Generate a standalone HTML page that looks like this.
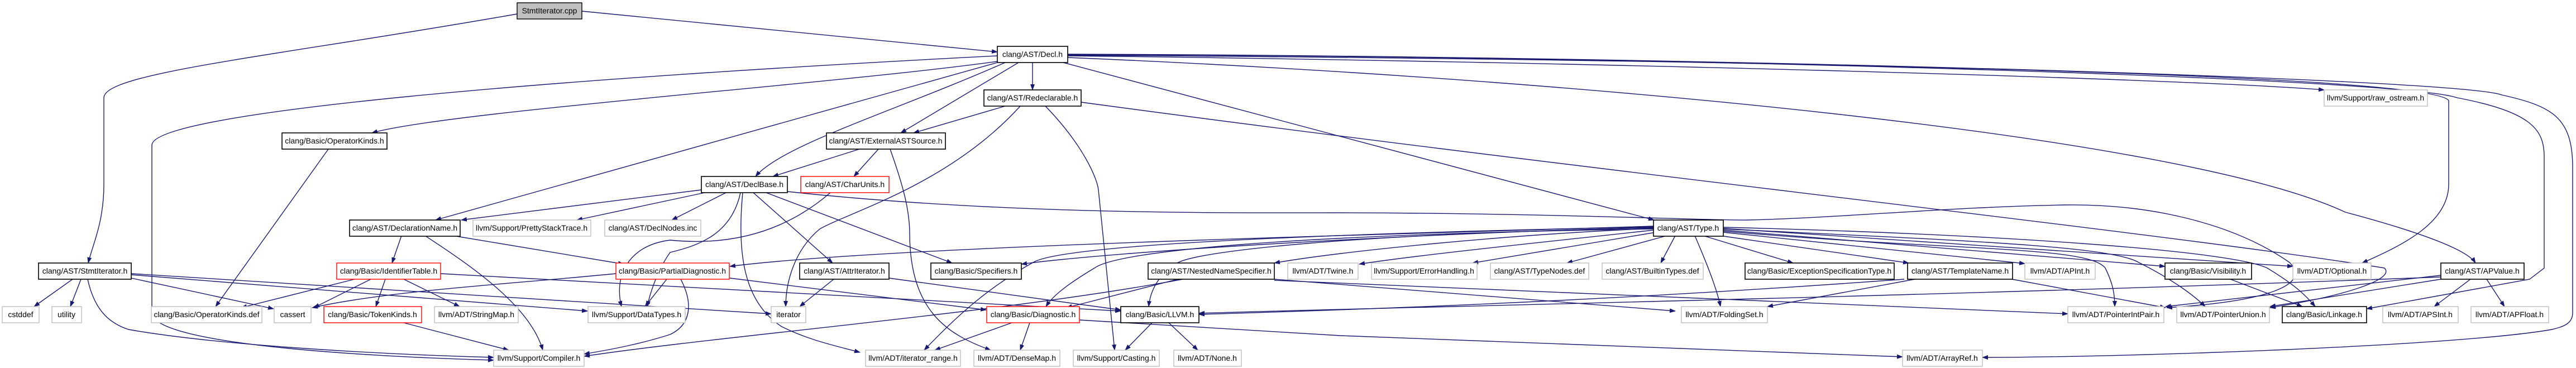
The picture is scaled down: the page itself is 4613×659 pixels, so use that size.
<!DOCTYPE html>
<html><head><meta charset="utf-8"><style>
html,body{margin:0;padding:0;background:#fff;width:4613px;height:659px;overflow:hidden}
svg{display:block}
text{font-family:"Liberation Sans",Arial,sans-serif;font-size:14px;fill:#000}
.e{fill:none;stroke:#191970;stroke-width:1.4}
.b{fill:#fff;stroke:#000;stroke-width:1.6}
.g{fill:#fff;stroke:#bfbfbf;stroke-width:1.4}
.r{fill:#fff;stroke:#ff0000;stroke-width:1.4}
</style></head><body>
<svg width="4613" height="659" viewBox="0 0 4613 659" xmlns="http://www.w3.org/2000/svg">
<defs><marker id="a" markerWidth="11" markerHeight="8" refX="10" refY="4" orient="auto" markerUnits="userSpaceOnUse"><path d="M0,0 L11,4 L0,8 z" fill="#191970"/></marker></defs>
<g class="e" marker-end="url(#a)">
<path d="M1042,20 L1786,93"/>
<path d="M926,25 C500,100 186,130 186,175 L186,330 C186,400 165,440 158,471"/>
<path d="M1849,112 L1849,161"/>
<path d="M1824,112 L1613,238"/>
<path d="M1800,112 C1600,200 1400,260 1353,316"/>
<path d="M1786,110 C1500,150 800,200 666,238"/>
<path d="M1786,112 L780,394"/>
<path d="M1786,100 C1000,140 272,200 272,260 L272,560 C272,620 700,640 884,645"/>
<path d="M1904,112 L2962,394"/>
<path d="M1912,100 C2800,110 3900,140 4162,161"/>
<path d="M1912,99 C3000,105 4350,130 4385,180 L4385,330 C4385,400 4300,440 4230,471"/>
<path d="M1912,103 C2800,140 3900,240 4200,380 C4350,420 4420,450 4433,471"/>
<path d="M1912,98 C3000,100 4300,140 4400,175 C4530,200 4556,230 4556,280 L4556,480 L4530,500 L4238,553"/>
<path d="M1912,97 C3000,100 4400,140 4480,170 C4570,190 4607,210 4607,300 L4607,560 C4607,580 4590,585 4570,590 C4400,620 3800,640 3550,640"/>
<path d="M1800,190 L1636,238"/>
<path d="M1827,190 C1700,330 1520,380 1468,410 C1420,450 1407,510 1407,549"/>
<path d="M1872,190 C1940,260 1965,320 1967,340 L1996,627"/>
<path d="M1936,183 C2800,300 3900,420 4270,480 C4290,500 4200,530 4065,551"/>
<path d="M1539,267 L1384,316"/>
<path d="M1573,267 L1529,316"/>
<path d="M1594,267 C1620,340 1629,380 1629,420 C1630,560 1700,600 1774,627"/>
<path d="M1256,340 L826,394"/>
<path d="M1262,345 L1033,394"/>
<path d="M1300,345 L1203,394"/>
<path d="M1330,345 C1320,450 1330,540 1400,585 C1450,610 1500,620 1540,631"/>
<path d="M1349,345 L1491,471"/>
<path d="M1372,345 L1705,471"/>
<path d="M1410,343 C1800,385 2200,381 2400,381 C2800,382 3050,395 3130,394 C3300,390 3500,370 3700,367 C3850,365 4000,400 4100,470 C4140,510 4060,540 3880,551"/>
<path d="M1487,345 C1400,420 1300,440 1200,430 C1120,440 1100,500 1113,549"/>
<path d="M1326,345 C1310,420 1250,440 1200,452 C1180,480 1165,520 1159,549"/>
<path d="M761,422 C850,480 950,550 972,627"/>
<path d="M2118,500 C1800,560 1300,600 1046,638"/>
<path d="M1219,500 C1240,540 1240,580 1200,599 C1150,615 1100,625 1046,634"/>
<path d="M130,500 L61,549"/>
<path d="M145,500 L126,549"/>
<path d="M157,500 C170,560 200,580 230,590 C400,620 700,635 884,640"/>
<path d="M235,498 L490,553"/>
<path d="M235,492 L1052,557"/>
<path d="M235,490 L1381,562"/>
<path d="M588,267 L386,549"/>
<path d="M719,422 L702,471"/>
<path d="M811,422 L1117,473"/>
<path d="M635,500 L432,551"/>
<path d="M664,500 L562,551"/>
<path d="M690,500 L673,549"/>
<path d="M723,500 L823,549"/>
<path d="M789,490 L2007,557"/>
<path d="M1103,490 C900,510 700,520 559,551"/>
<path d="M1194,500 L1155,549"/>
<path d="M1307,498 L1766,555"/>
<path d="M723,578 L911,627"/>
<path d="M1493,500 L1432,549"/>
<path d="M1592,498 L2007,555"/>
<path d="M2109,500 L1910,551"/>
<path d="M1812,578 L1674,627"/>
<path d="M1844,578 L1827,627"/>
<path d="M1933,573 L2400,601 L3407,639"/>
<path d="M2063,578 L2015,627"/>
<path d="M2093,578 L2145,627"/>
<path d="M2961,405 C2500,420 1600,440 1307,477"/>
<path d="M2961,407 C2500,420 2000,450 1829,473"/>
<path d="M2961,409 C2700,420 2400,450 2282,471"/>
<path d="M2961,412 C2800,430 2550,455 2434,473"/>
<path d="M2965,416 L2637,471"/>
<path d="M2985,422 L2806,471"/>
<path d="M3000,422 L2974,471"/>
<path d="M3035,422 C3060,480 3075,520 3081,549"/>
<path d="M3050,422 L3211,471"/>
<path d="M3080,422 L3418,471"/>
<path d="M3086,416 L3626,472"/>
<path d="M3086,412 L3877,477"/>
<path d="M3086,409 L4106,477"/>
<path d="M3086,414 C3500,450 3740,440 3770,480 C3785,510 3787,530 3787,549"/>
<path d="M3086,410 C3500,430 3780,440 3830,470 C3890,500 3930,530 3949,549"/>
<path d="M3086,407 C3600,420 4000,450 4060,480 C4110,510 4130,530 4146,549"/>
<path d="M2961,410 C2300,420 2000,450 1960,480 C1910,510 1885,530 1873,549"/>
<path d="M2961,408 C2400,420 2150,450 2110,470 C2075,490 2060,520 2057,549"/>
<path d="M2961,406 C2300,420 1900,440 1850,470 C1760,520 1700,580 1655,627"/>
<path d="M3429,500 L3165,549"/>
<path d="M3410,500 C3000,530 2600,550 2147,563"/>
<path d="M3603,500 L3878,551"/>
<path d="M2282,500 L3000,557"/>
<path d="M2282,502 L3703,562"/>
<path d="M4424,500 L4359,549"/>
<path d="M4453,500 L4485,549"/>
<path d="M4371,493 L3878,549"/>
<path d="M4371,500 L4065,549"/>
<path d="M4371,496 C3500,530 2500,550 2147,561"/>
<path d="M3994,500 L4123,549"/>
</g>
<g>
<rect x="926" y="5" width="116" height="29" fill="#bfbfbf" stroke="#000" stroke-width="1.4"/><text x="984" y="24" text-anchor="middle">StmtIterator.cpp</text>
<rect class="b" x="1786" y="83" width="126" height="29"/><text x="1849" y="102" text-anchor="middle">clang/AST/Decl.h</text>
<rect class="b" x="1762" y="161" width="174" height="29"/><text x="1849" y="180" text-anchor="middle">clang/AST/Redeclarable.h</text>
<rect class="g" x="4162" y="161" width="185" height="29"/><text x="4254" y="180" text-anchor="middle">llvm/Support/raw_ostream.h</text>
<rect class="b" x="505" y="238" width="188" height="29"/><text x="599" y="257" text-anchor="middle">clang/Basic/OperatorKinds.h</text>
<rect class="b" x="1480" y="238" width="213" height="29"/><text x="1586" y="257" text-anchor="middle">clang/AST/ExternalASTSource.h</text>
<rect class="b" x="1256" y="316" width="154" height="29"/><text x="1333" y="335" text-anchor="middle">clang/AST/DeclBase.h</text>
<rect class="r" x="1434" y="316" width="158" height="29"/><text x="1513" y="335" text-anchor="middle">clang/AST/CharUnits.h</text>
<rect class="b" x="626" y="394" width="198" height="29"/><text x="725" y="413" text-anchor="middle">clang/AST/DeclarationName.h</text>
<rect class="g" x="847" y="394" width="211" height="29"/><text x="952" y="413" text-anchor="middle">llvm/Support/PrettyStackTrace.h</text>
<rect class="g" x="1083" y="394" width="172" height="29"/><text x="1169" y="413" text-anchor="middle">clang/AST/DeclNodes.inc</text>
<rect class="b" x="2961" y="394" width="125" height="29"/><text x="3023" y="413" text-anchor="middle">clang/AST/Type.h</text>
<rect class="b" x="69" y="471" width="166" height="29"/><text x="152" y="490" text-anchor="middle">clang/AST/StmtIterator.h</text>
<rect class="r" x="603" y="471" width="186" height="29"/><text x="696" y="490" text-anchor="middle">clang/Basic/IdentifierTable.h</text>
<rect class="r" x="1103" y="471" width="203" height="29"/><text x="1204" y="490" text-anchor="middle">clang/Basic/PartialDiagnostic.h</text>
<rect class="b" x="1432" y="471" width="160" height="29"/><text x="1512" y="490" text-anchor="middle">clang/AST/AttrIterator.h</text>
<rect class="b" x="1667" y="471" width="162" height="29"/><text x="1748" y="490" text-anchor="middle">clang/Basic/Specifiers.h</text>
<rect class="b" x="2056" y="471" width="226" height="29"/><text x="2169" y="490" text-anchor="middle">clang/AST/NestedNameSpecifier.h</text>
<rect class="g" x="2306" y="471" width="126" height="29"/><text x="2369" y="490" text-anchor="middle">llvm/ADT/Twine.h</text>
<rect class="g" x="2456" y="471" width="189" height="29"/><text x="2550" y="490" text-anchor="middle">llvm/Support/ErrorHandling.h</text>
<rect class="g" x="2669" y="471" width="176" height="29"/><text x="2757" y="490" text-anchor="middle">clang/AST/TypeNodes.def</text>
<rect class="g" x="2869" y="471" width="181" height="29"/><text x="2959" y="490" text-anchor="middle">clang/AST/BuiltinTypes.def</text>
<rect class="b" x="3125" y="471" width="267" height="29"/><text x="3258" y="490" text-anchor="middle">clang/Basic/ExceptionSpecificationType.h</text>
<rect class="b" x="3416" y="471" width="188" height="29"/><text x="3510" y="490" text-anchor="middle">clang/AST/TemplateName.h</text>
<rect class="g" x="3626" y="471" width="126" height="29"/><text x="3689" y="490" text-anchor="middle">llvm/ADT/APInt.h</text>
<rect class="b" x="3877" y="471" width="155" height="29"/><text x="3954" y="490" text-anchor="middle">clang/Basic/Visibility.h</text>
<rect class="g" x="4106" y="471" width="140" height="29"/><text x="4176" y="490" text-anchor="middle">llvm/ADT/Optional.h</text>
<rect class="b" x="4371" y="471" width="149" height="29"/><text x="4445" y="490" text-anchor="middle">clang/AST/APValue.h</text>
<rect class="g" x="4" y="549" width="66" height="29"/><text x="37" y="568" text-anchor="middle">cstddef</text>
<rect class="g" x="93" y="549" width="53" height="29"/><text x="119" y="568" text-anchor="middle">utility</text>
<rect class="g" x="271" y="549" width="198" height="29"/><text x="370" y="568" text-anchor="middle">clang/Basic/OperatorKinds.def</text>
<rect class="g" x="491" y="549" width="66" height="29"/><text x="524" y="568" text-anchor="middle">cassert</text>
<rect class="r" x="580" y="549" width="175" height="29"/><text x="667" y="568" text-anchor="middle">clang/Basic/TokenKinds.h</text>
<rect class="g" x="778" y="549" width="150" height="29"/><text x="853" y="568" text-anchor="middle">llvm/ADT/StringMap.h</text>
<rect class="g" x="1053" y="549" width="174" height="29"/><text x="1140" y="568" text-anchor="middle">llvm/Support/DataTypes.h</text>
<rect class="g" x="1381" y="549" width="62" height="29"/><text x="1412" y="568" text-anchor="middle">iterator</text>
<rect class="r" x="1767" y="549" width="166" height="29"/><text x="1850" y="568" text-anchor="middle">clang/Basic/Diagnostic.h</text>
<rect class="b" x="2007" y="549" width="140" height="29"/><text x="2077" y="568" text-anchor="middle">clang/Basic/LLVM.h</text>
<rect class="g" x="3011" y="549" width="154" height="29"/><text x="3088" y="568" text-anchor="middle">llvm/ADT/FoldingSet.h</text>
<rect class="g" x="3703" y="549" width="172" height="29"/><text x="3789" y="568" text-anchor="middle">llvm/ADT/PointerIntPair.h</text>
<rect class="g" x="3898" y="549" width="166" height="29"/><text x="3981" y="568" text-anchor="middle">llvm/ADT/PointerUnion.h</text>
<rect class="b" x="4087" y="549" width="151" height="29"/><text x="4162" y="568" text-anchor="middle">clang/Basic/Linkage.h</text>
<rect class="g" x="4267" y="549" width="135" height="29"/><text x="4334" y="568" text-anchor="middle">llvm/ADT/APSInt.h</text>
<rect class="g" x="4425" y="549" width="139" height="29"/><text x="4494" y="568" text-anchor="middle">llvm/ADT/APFloat.h</text>
<rect class="g" x="884" y="627" width="162" height="29"/><text x="965" y="646" text-anchor="middle">llvm/Support/Compiler.h</text>
<rect class="g" x="1550" y="627" width="170" height="29"/><text x="1635" y="646" text-anchor="middle">llvm/ADT/iterator_range.h</text>
<rect class="g" x="1744" y="627" width="154" height="29"/><text x="1821" y="646" text-anchor="middle">llvm/ADT/DenseMap.h</text>
<rect class="g" x="1922" y="627" width="154" height="29"/><text x="1999" y="646" text-anchor="middle">llvm/Support/Casting.h</text>
<rect class="g" x="2102" y="627" width="121" height="29"/><text x="2162" y="646" text-anchor="middle">llvm/ADT/None.h</text>
<rect class="g" x="3407" y="627" width="143" height="29"/><text x="3478" y="646" text-anchor="middle">llvm/ADT/ArrayRef.h</text>
</g>
</svg>
</body></html>
